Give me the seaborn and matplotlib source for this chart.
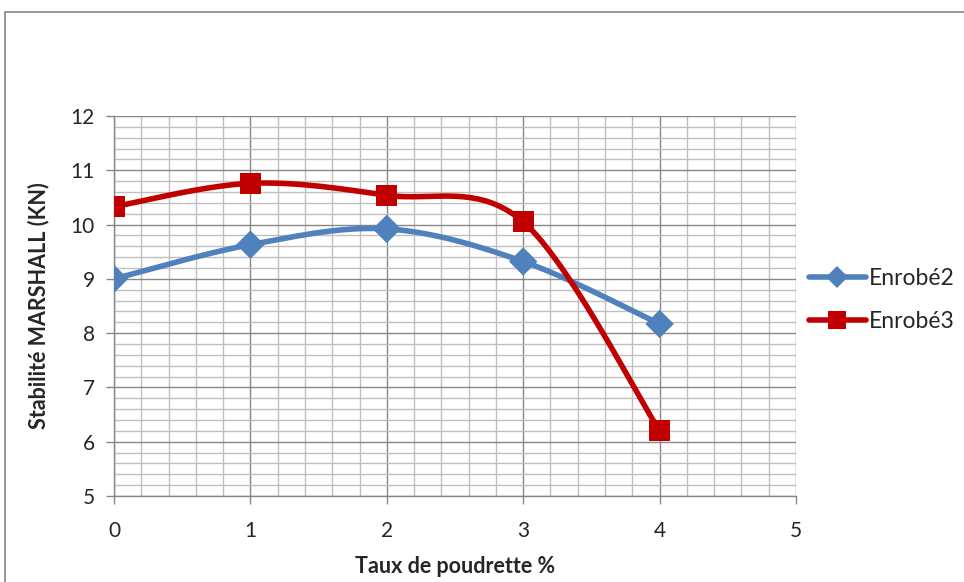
import numpy as np
import pandas as pd
import matplotlib
matplotlib.use("Agg")
import matplotlib.pyplot as plt
from matplotlib.lines import Line2D
from matplotlib.patches import Rectangle
from matplotlib.ticker import MultipleLocator
import seaborn as sns

# Marshall stability vs rubber powder content
taux = [0, 1, 2, 3, 4]
enrobe2 = [9.00, 9.63, 9.92, 9.32, 8.17]
enrobe3 = [10.33, 10.76, 10.54, 10.05, 6.20]
series_names = ["Enrobé2", "Enrobé3"]
colors = ["#4F81BD", "#C00000"]
markers = ["D", "s"]


def smooth_curve(x, y, n=40):
    """Cubic Bezier smoothing through every point (spreadsheet-style)."""
    x = np.asarray(x, float)
    y = np.asarray(y, float)
    px = np.concatenate([[x[0]], x, [x[-1]]])
    py = np.concatenate([[y[0]], y, [y[-1]]])
    xs, ys = [], []
    t = np.linspace(0, 1, n)
    for i in range(1, len(px) - 2):
        p0 = np.array([px[i], py[i]])
        p3 = np.array([px[i + 1], py[i + 1]])
        c1 = p0 + (np.array([px[i + 1], py[i + 1]]) - np.array([px[i - 1], py[i - 1]])) / 6
        c2 = p3 - (np.array([px[i + 2], py[i + 2]]) - np.array([px[i], py[i]])) / 6
        b = ((1 - t) ** 3)[:, None] * p0 + (3 * (1 - t) ** 2 * t)[:, None] * c1 \
            + (3 * (1 - t) * t ** 2)[:, None] * c2 + (t ** 3)[:, None] * p3
        xs.extend(b[:, 0])
        ys.extend(b[:, 1])
    return np.array(xs), np.array(ys)


sns.set_style("white")
plt.rcParams["font.family"] = ["Lato", "DejaVu Sans"]

fig = plt.figure(figsize=(9.64, 5.82), dpi=100)
ax = fig.add_axes([114 / 964, 1 - 496 / 582, (796 - 114) / 964, (496 - 116) / 582])

# outer chart frame
fig.patches.append(Rectangle((5 / 964, -0.1), 1.2, 1 - 12 / 582 + 0.1,
                             transform=fig.transFigure, fill=False,
                             edgecolor="#868686", linewidth=1.2, zorder=0))

for vals, name, col, mk in zip([enrobe2, enrobe3], series_names, colors, markers):
    sx, sy = smooth_curve(taux, vals)
    curve = pd.DataFrame({"x": sx, "y": sy})
    sns.lineplot(data=curve, x="x", y="y", ax=ax, sort=False, estimator=None,
                 color=col, linewidth=4.0, zorder=3, solid_capstyle="round")
    pts = pd.DataFrame({"x": taux, "y": vals})
    sns.scatterplot(data=pts, x="x", y="y", ax=ax, marker=mk, color=col,
                    s=230 if mk == "s" else 210, edgecolor="none", linewidth=0, zorder=4)

ax.set_xlim(0, 5)
ax.set_ylim(5, 12)
ax.xaxis.set_major_locator(MultipleLocator(1))
ax.yaxis.set_major_locator(MultipleLocator(1))
ax.xaxis.set_minor_locator(MultipleLocator(0.2))
ax.yaxis.set_minor_locator(MultipleLocator(0.2))
ax.grid(which="minor", color="#BFBFBF", linewidth=1.0, zorder=0)
ax.grid(which="major", color="#878787", linewidth=1.0, zorder=1)
ax.set_axisbelow(True)
for s in ["top", "right"]:
    ax.spines[s].set_visible(False)
for s in ["left", "bottom"]:
    ax.spines[s].set_color("#878787")
    ax.spines[s].set_linewidth(1.0)
ax.tick_params(which="major", direction="out", length=6, width=1, color="#878787",
               labelsize=15, pad=8, bottom=True, left=True)
ax.tick_params(axis="x", which="major", pad=12)
ax.tick_params(which="minor", length=0)

ax.set_xlabel("Taux de poudrette %", fontsize=15.5, fontweight="bold", labelpad=11)
ax.set_ylabel("Stabilité MARSHALL (KN)", fontsize=15.5, fontweight="bold", labelpad=15)

handles = [Line2D([], [], color=c, marker=m, linewidth=4, markersize=13 if m == "s" else 11,
                  markeredgewidth=0) for c, m in zip(colors, markers)]
fig.legend(handles, series_names, loc="center left", bbox_to_anchor=(788 / 964, 1 - 300 / 582),
           frameon=False, fontsize=16.5, handlelength=2.5, handletextpad=0.15,
           labelspacing=1.0)

fig.savefig("out.png", dpi=100)
